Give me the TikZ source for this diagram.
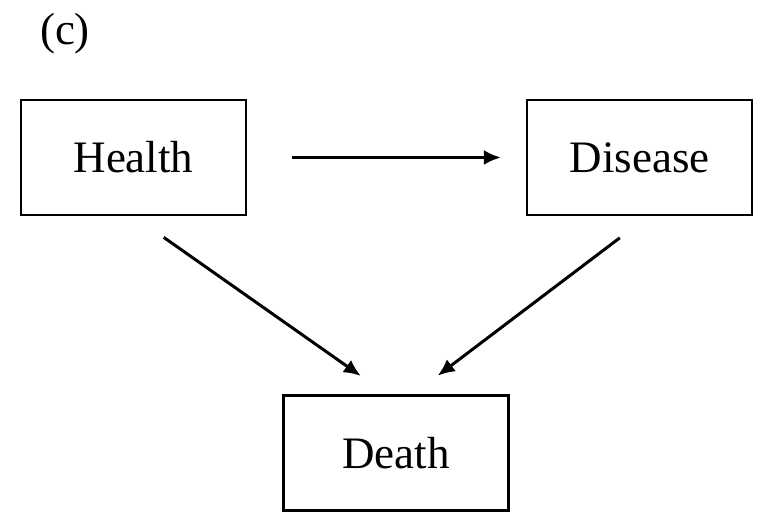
\documentclass[tikz,border=0pt]{standalone}
\usepackage{fontspec}
\setmainfont{Liberation Serif}
\usetikzlibrary{arrows.meta}
\usetikzlibrary{positioning}

\tikzset{
  statebox/.style={draw, line width=2.2pt, minimum width=225pt, minimum height=115pt, inner sep=0pt,
    font=\fontsize{45}{54}\selectfont},
  trans/.style={line width=3pt, -{Latex[length=17pt,width=15pt]}}
}

\begin{document}
\begin{tikzpicture}[x=1pt,y=1pt]
    \useasboundingbox (0,0) rectangle (760,516);
    \node (label) at (65,482) {\fontsize{45}{54}\selectfont (c)};
    \node[statebox] (health)  at (133.5,358.5) {Health};
    \node[statebox] (disease) at (639.5,358.5) {Disease};
    \node[statebox] (death)   at (396,63)      {Death};
    % transitions
    \draw[trans, shorten <=45pt, shorten >=25pt] (health.east) -- (disease.west);
    \draw[trans, shorten <=37pt, shorten >=32pt] (health.south) -- ([xshift=-9pt]death.north);
    \draw[trans, shorten <=36pt, shorten >=31pt] ([xshift=9pt]disease.south) -- ([xshift=17pt]death.north);
\end{tikzpicture}
\end{document}
